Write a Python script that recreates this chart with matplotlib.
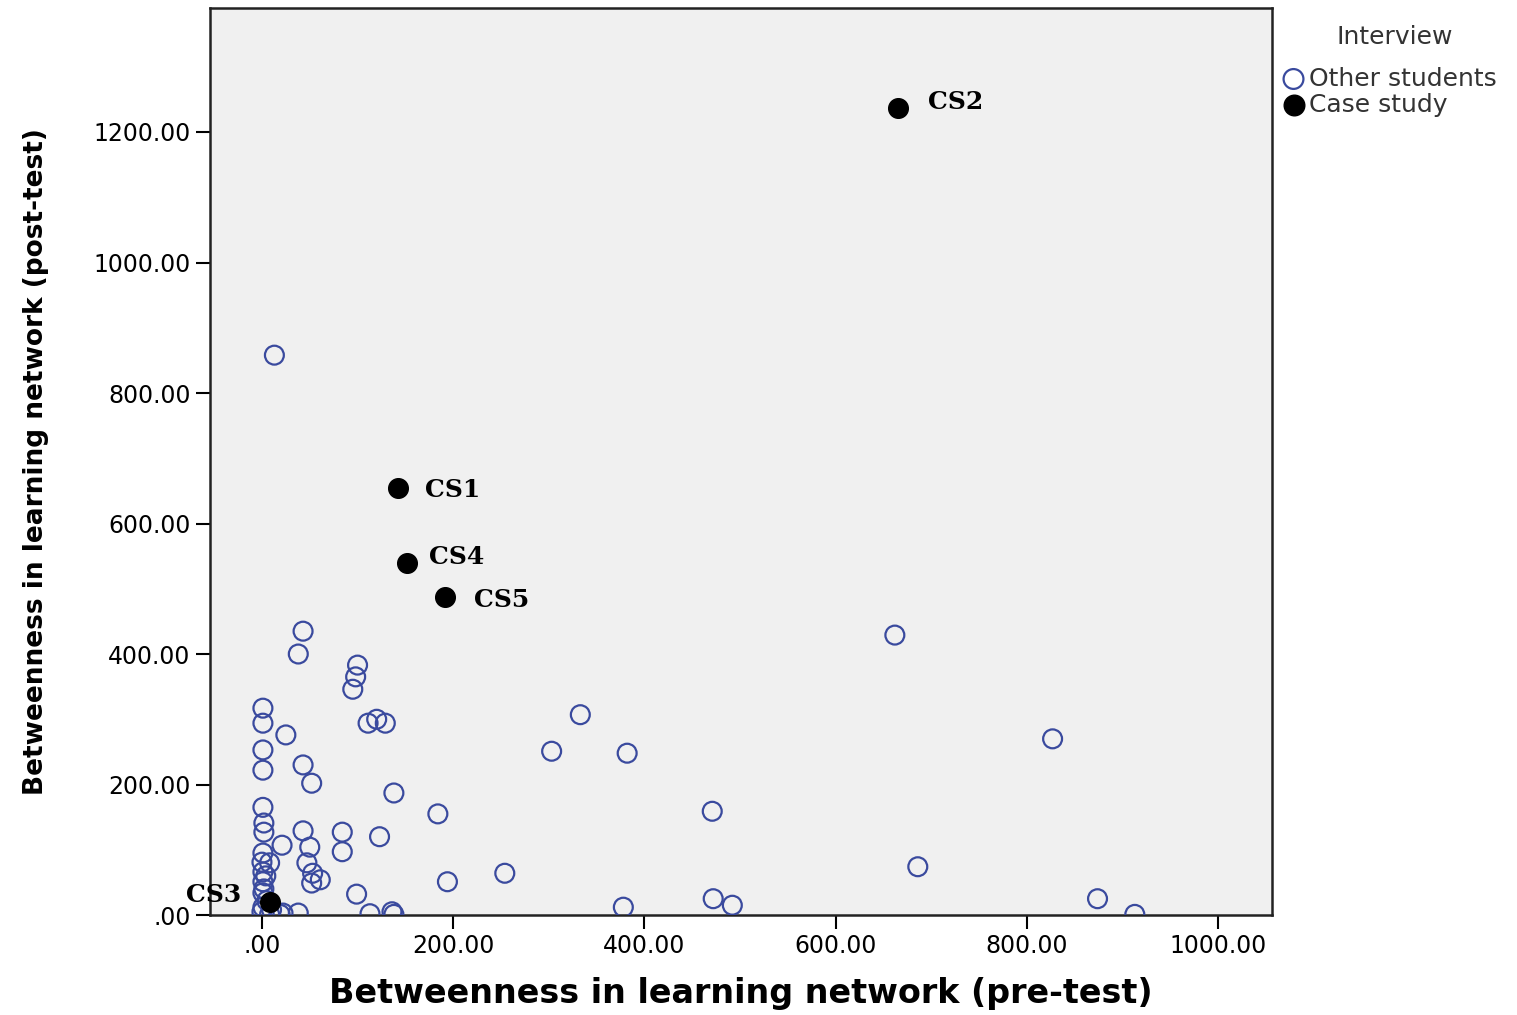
import matplotlib
matplotlib.use("Agg")
import matplotlib.pyplot as plt
from matplotlib.ticker import FuncFormatter

# betweenness, pre-test (x) and post-test (y)
other_x = [13, 43, 38, 100, 98, 95, 1, 1, 25, 111, 120, 129, 1, 1, 43, 52,
           333, 303, 382, 662, 827, 138, 471, 184, 1, 2, 2, 43, 84, 123, 21,
           50, 84, 1, 0, 8, 47, 1, 53, 61, 52, 1, 99, 1, 1, 38, 22, 194, 254,
           686, 874, 378, 472, 492, 913, 113, 136, 138, 8, 19, 0, 2, 5, 10, 4]
other_y = [858, 435, 400, 383, 365, 346, 317, 294, 276, 294, 300, 294, 253,
           222, 230, 202, 307, 251, 248, 429, 270, 187, 159, 155, 165, 141,
           127, 129, 127, 120, 107, 104, 97, 95, 81, 80, 80, 66, 64, 54, 49,
           51, 32, 34, 12, 3, 3, 51, 64, 74, 25, 12, 25, 15, 1, 2, 5, 1, 1,
           1, 5, 40, 22, 8, 60]

case_x = [142, 665, 8, 152, 191]
case_y = [654, 1237, 20, 540, 487]
case_names = ["CS1", "CS2", "CS3", "CS4", "CS5"]
# label offsets in points
label_off = [(20, -1), (22, 4), (-60, 5), (16, 4), (21, -2)]

fig = plt.figure(figsize=(15.17, 10.15), dpi=100)
ax = fig.add_axes([0.1384, 0.0985, 0.7001, 0.8936])
ax.set_facecolor("#f0f0f0")

ax.scatter(other_x, other_y, s=185, facecolors="none", edgecolors="#3a4a9e",
           linewidths=1.6, label="Other students", zorder=3)
ax.scatter(case_x, case_y, s=200, color="black", label="Case study", zorder=4)

for name, x, y, off in zip(case_names, case_x, case_y, label_off):
    ax.annotate(name, (x, y), xytext=off, textcoords="offset points",
                fontsize=18, fontweight="bold", family="DejaVu Serif",
                va="center", ha="left", color="black")

ax.set_xlim(-54.4, 1056.5)
ax.set_ylim(0, 1390)
ax.set_xticks([0, 200, 400, 600, 800, 1000])
ax.set_yticks([0, 200, 400, 600, 800, 1000, 1200])
fmt = FuncFormatter(lambda v, p: ".00" if v == 0 else "%.2f" % v)
ax.xaxis.set_major_formatter(fmt)
ax.yaxis.set_major_formatter(fmt)
ax.tick_params(direction="out", length=10, width=1.5, labelsize=17,
               colors="black", pad=4)
for sp in ax.spines.values():
    sp.set_linewidth(1.8)
    sp.set_color("#222222")

ax.set_xlabel("Betweenness in learning network (pre-test)", fontsize=24,
              fontweight="bold", labelpad=13)
ax.set_ylabel("Betweenness in learning network (post-test)", fontsize=19,
              fontweight="bold", labelpad=32)

fig.text(1395 / 1517, 1 - 37 / 1015, "Interview", fontsize=18,
         color="#333333", ha="center", va="center")
leg = ax.legend(loc="upper left", bbox_to_anchor=(0.992, 0.952), frameon=False,
                fontsize=18, handletextpad=0.0, borderaxespad=0.2,
                labelspacing=0.08, handlelength=1.2, markerscale=1.05)
for t in leg.get_texts():
    t.set_color("#333333")

fig.savefig("out.png", dpi=100)
